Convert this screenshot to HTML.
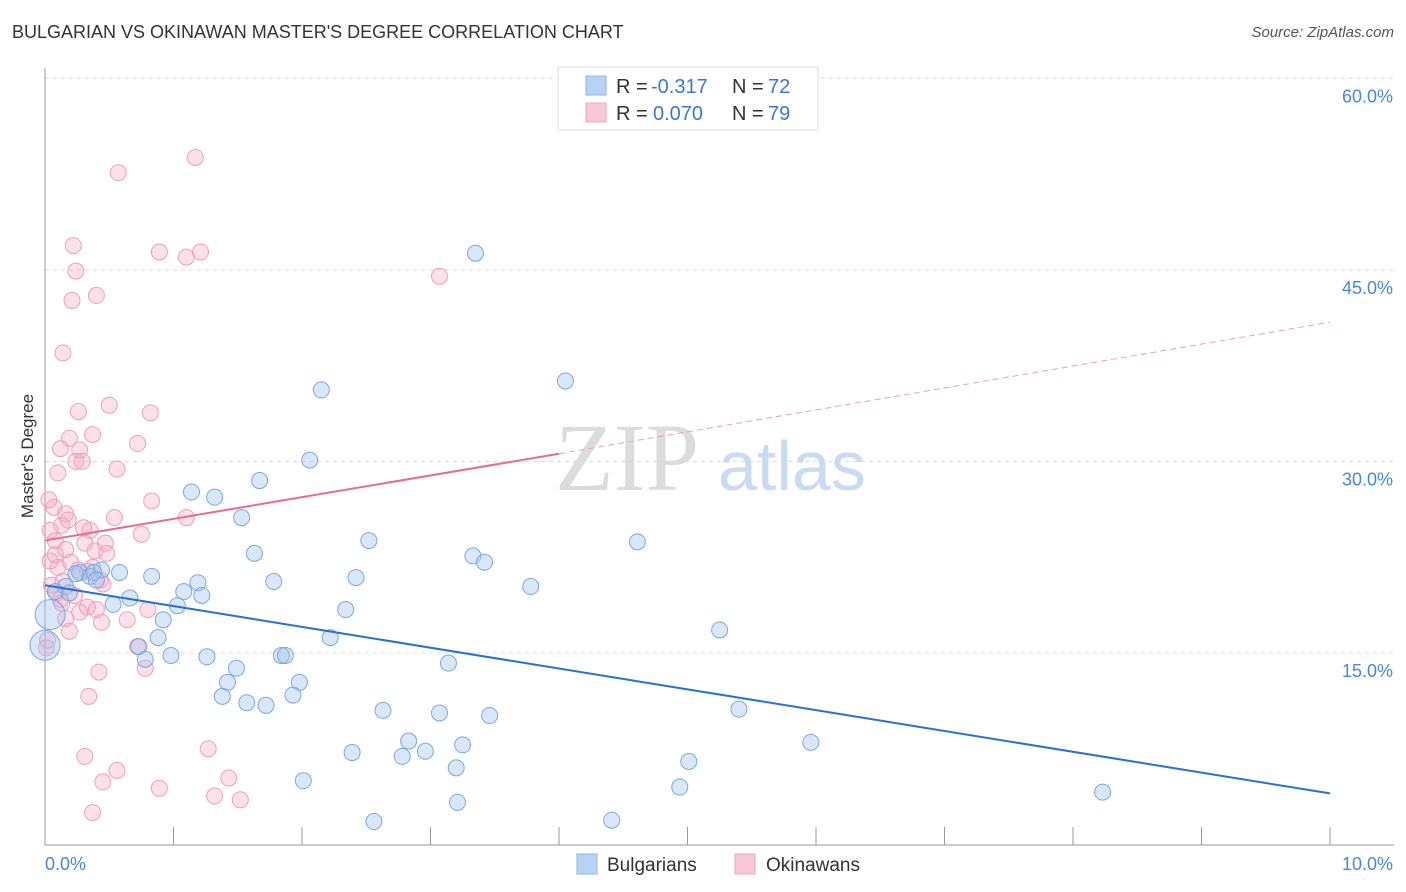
<!DOCTYPE html>
<html><head><meta charset="utf-8">
<style>
body{margin:0;background:#fff;font-family:"Liberation Sans",sans-serif;}
#wrap{position:relative;width:1406px;height:892px;overflow:hidden;}
.t{position:absolute;white-space:nowrap;}
</style></head><body>
<div id="wrap">
<div class="t" style="left:12px;top:22px;font-size:18px;color:#333;">BULGARIAN VS OKINAWAN MASTER'S DEGREE CORRELATION CHART</div>
<div class="t" style="right:12px;top:24px;font-size:15px;color:#555;font-style:italic;">Source: ZipAtlas.com</div>
<svg id="chart" width="1406" height="892" style="position:absolute;left:0;top:0"></svg>
</div>
<script>
const xTicks=[0,1,2,3,4,5,6,7,8,9,10];
const yTicks=[15,30,45,60];
const yTickLabels=["15.0%","30.0%","45.0%","60.0%"];
const blueX=[3.35,4.05,2.15,2.06,1.67,1.14,1.32,1.53,2.52,4.61,1.63,3.33,3.42,1.78,2.42,3.78,0.83,0.58,0.44,0.27,0.35,1.19,1.08,1.22,0.66,0.53,0.16,1.03,2.34,0.92,0.88,2.22,5.25,0.73,0.78,0.98,1.26,1.84,1.87,3.14,1.49,1.42,1.98,1.38,1.93,1.57,1.72,2.63,3.07,3.46,5.40,2.83,3.25,2.39,2.96,2.78,3.20,5.01,5.96,2.01,4.94,3.21,8.23,2.56,4.41,0.04,0.0,0.08,0.19,0.38,0.24,0.40];
const blueY=[46.3,36.3,35.6,30.1,28.5,27.6,27.2,25.6,23.8,23.7,22.8,22.6,22.1,20.6,20.9,20.2,21.0,21.3,21.5,21.3,21.0,20.5,19.8,19.5,19.3,18.8,20.2,18.7,18.4,17.6,16.2,16.2,16.8,15.5,14.5,14.8,14.7,14.8,14.8,14.2,13.8,12.7,12.7,11.6,11.7,11.1,10.9,10.5,10.3,10.1,10.6,8.1,7.8,7.2,7.3,6.9,6.0,6.5,8.0,5.0,4.5,3.3,4.1,1.8,1.9,18.0,15.6,19.8,19.7,21.3,21.2,20.7];
const blueBig=[65,66];
const pinkX=[1.17,0.57,0.22,0.89,1.10,1.21,0.24,3.07,0.21,0.40,0.14,0.50,0.26,0.82,0.37,0.19,0.72,0.12,0.27,0.24,0.29,0.56,0.10,0.83,0.07,1.10,0.16,0.54,0.13,0.35,0.75,0.04,0.08,0.31,0.47,0.16,0.39,0.48,0.04,0.20,0.10,0.37,0.26,0.33,0.43,0.45,0.14,0.09,0.12,0.33,0.80,0.27,0.16,0.44,0.64,0.19,0.02,0.72,0.78,0.42,0.34,1.27,0.31,0.56,1.43,0.45,0.89,1.32,1.52,0.37,0.01,0.13,0.05,0.23,0.40,0.08,0.18,0.30,0.03];
const pinkY=[53.8,52.6,46.9,46.4,46.0,46.4,44.9,44.5,42.6,43.0,38.5,34.4,33.9,33.8,32.1,31.8,31.4,31.0,30.9,30.0,30.0,29.4,29.1,26.9,26.4,25.6,25.9,25.6,25.0,24.6,24.3,24.6,23.8,23.6,23.6,23.1,23.0,22.8,22.2,22.1,21.7,21.7,21.5,21.4,20.7,20.4,20.6,19.7,19.2,18.6,18.4,18.2,17.7,17.4,17.6,16.7,16.0,15.5,13.8,13.5,11.6,7.5,6.9,5.8,5.2,4.9,4.4,3.8,3.5,2.5,15.4,18.9,20.3,19.5,18.4,22.7,25.4,24.8,27.0];
const blueFitX=[0,10], blueFitY=[20.3,4.0];
const pinkFitX=[0,4.0,10], pinkFitY=[23.8,30.6,40.9];

const X=v=>45+v*128.5, Y=v=>844.5-v*12.77;
const svg=document.getElementById('chart');
const NS='http://www.w3.org/2000/svg';
function mk(tag,attrs,parent){const e=document.createElementNS(NS,tag);for(const k in attrs)e.setAttribute(k,attrs[k]);(parent||svg).appendChild(e);return e;}

// watermark
let wm=mk('text',{x:555,y:490,'font-size':96,'font-family':'Liberation Serif, serif',fill:'#dcdcdc'});


wm.textContent='ZIP';
let wm2=mk('text',{x:718,y:490,'font-size':70,'font-family':'Liberation Sans, sans-serif',fill:'#c9dbf2'});


wm2.textContent='atlas';

// gridlines and y labels
yTicks.forEach((v,i)=>{
 let g=mk('line',{x1:45,x2:1394,y1:Y(v),y2:Y(v),stroke:'#d8d8d8','stroke-dasharray':'4,4'});
 
 
 let t=mk('text',{x:1393,y:Y(v)+24,'text-anchor':'end','font-size':18,fill:'#4a86d8'});
 
 
 t.textContent=yTickLabels[i];
});
// axes
let ya=mk('line',{x1:45,x2:45,y1:68,y2:845,stroke:'#999'});


let xa=mk('line',{x1:45,x2:1394,y1:845,y2:845,stroke:'#999'});


xTicks.forEach(v=>{
 let l=mk('line',{x1:X(v),x2:X(v),y1:827,y2:845,stroke:'#999'});
 
 
});
let xl0=mk('text',{x:45,y:870,'font-size':18,fill:'#4a86d8'});


xl0.textContent='0.0%';
let xl1=mk('text',{x:1393,y:870,'text-anchor':'end','font-size':18,fill:'#4a86d8'});


xl1.textContent='10.0%';
let yt=mk('text',{x:33,y:456,'text-anchor':'middle','font-size':17,fill:'#333',transform:'rotate(-90 33 456)'});


yt.textContent="Master's Degree";

// points
pinkX.forEach((x,i)=>{
 let c=mk('circle',{cx:X(x),cy:Y(pinkY[i]),r:8,fill:'rgba(245,170,195,0.35)',stroke:'#eca0b8','stroke-width':1});
 
 
});
blueX.forEach((x,i)=>{
 let big=blueBig.includes(i);
 let c=mk('circle',{cx:X(x),cy:Y(blueY[i]),r:big?15:8,fill:'rgba(160,195,240,0.4)',stroke:'#7aa8e2','stroke-width':1});
 
 
});
// fits
let bf=mk('line',{x1:X(blueFitX[0]),y1:Y(blueFitY[0]),x2:X(blueFitX[1]),y2:Y(blueFitY[1]),stroke:'#2a6fd6','stroke-width':2});


let pf=mk('line',{x1:X(pinkFitX[0]),y1:Y(pinkFitY[0]),x2:X(pinkFitX[1]),y2:Y(pinkFitY[1]),stroke:'#e66b95','stroke-width':2});


let pd=mk('line',{x1:X(pinkFitX[1]),y1:Y(pinkFitY[1]),x2:X(pinkFitX[2]),y2:Y(pinkFitY[2]),stroke:'#eba0b8','stroke-width':1,'stroke-dasharray':'6,4'});



// top legend
let lg=mk('g',{});


mk('rect',{x:558,y:67,width:260,height:63,fill:'#fff',stroke:'#ddd'},lg);
mk('rect',{x:586,y:76,width:20,height:19,fill:'#b8d2f4',stroke:'#8fb5e8'},lg);
mk('rect',{x:586,y:103,width:20,height:19,fill:'#f9c8d6',stroke:'#eea5bc'},lg);
function txt(x,y,s,fill,name){let t=mk('text',{x:x,y:y,'font-size':20,fill:fill},lg);t.textContent=s;}
txt(616,93,'R =','#333','r-label');txt(651,93,'-0.317','#3a78d0','r-value-bulgarian');
txt(732,93,'N =','#333','n-label');txt(768,93,'72','#3a78d0','n-value-bulgarian');
txt(616,120,'R =','#333','r-label');txt(653,120,'0.070','#3a78d0','r-value-okinawan');
txt(732,120,'N =','#333','n-label');txt(768,120,'79','#3a78d0','n-value-okinawan');

// bottom legend
let bl=mk('g',{});


mk('rect',{x:577,y:854,width:20,height:20,fill:'#b8d2f4',stroke:'#8fb5e8'},bl);
let b1=mk('text',{x:607,y:871,'font-size':19,fill:'#333'},bl);


b1.textContent='Bulgarians';
mk('rect',{x:735,y:854,width:20,height:20,fill:'#f9c8d6',stroke:'#eea5bc'},bl);
let b2=mk('text',{x:766,y:871,'font-size':19,fill:'#333'},bl);


b2.textContent='Okinawans';
</script>
</body></html>
